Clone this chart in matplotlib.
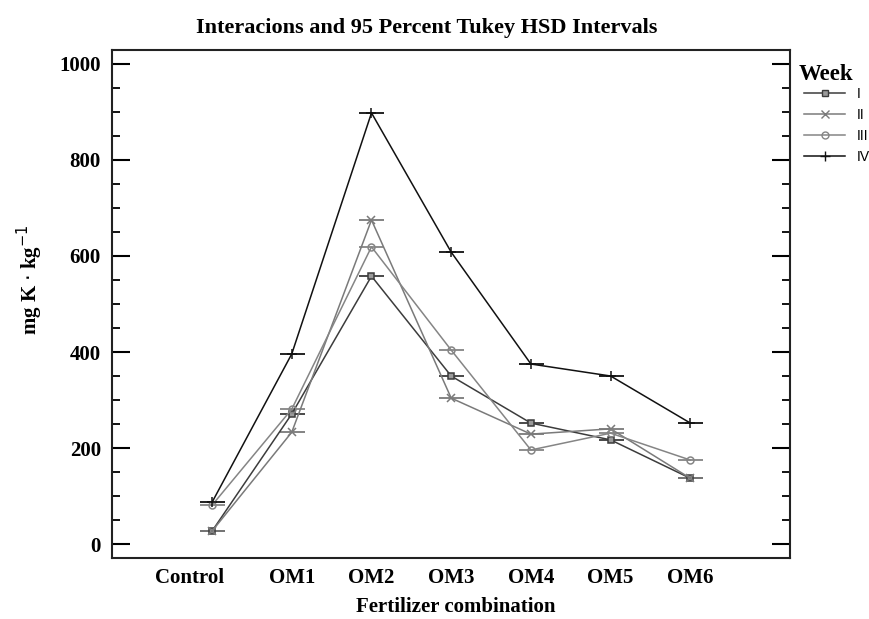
import matplotlib
matplotlib.use("Agg")
import matplotlib.pyplot as plt
from matplotlib.ticker import MultipleLocator
import matplotlib.transforms as mtransforms
from matplotlib.lines import Line2D

categories = ["Control", "OM1", "OM2", "OM3", "OM4", "OM5", "OM6"]
week_labels = ["I", "II", "III", "IV"]
week_I = [27, 271, 558, 350, 252, 217, 137]
week_II = [27, 233, 675, 304, 229, 240, 137]
week_III = [81, 281, 619, 404, 196, 231, 175]
week_IV = [87, 396, 898, 608, 375, 350, 252]
series = [week_I, week_II, week_III, week_IV]

colors = ["#3c3c3c", "#7a7a7a", "#858585", "#111111"]
markers = ["s", "x", "o", "+"]
mfaces = ["#9a9a9a", "#7a7a7a", "none", "#111111"]
msizes = [4.5, 6, 5, 7]

serif = ["Liberation Serif", "DejaVu Serif"]
sans = ["Liberation Sans", "DejaVu Sans"]

fig = plt.figure(figsize=(8.69, 6.19), dpi=100)
ax = fig.add_axes([112/869, 1-558/619, (790-112)/869, (558-50)/619])

x = list(range(len(categories)))
for vals, c, m, mf, ms, lab in zip(series, colors, markers, mfaces, msizes, week_labels):
    # interval caps
    ax.plot(x, vals, linestyle="none", marker="_", markersize=18, markeredgewidth=1.3,
            color=c, zorder=3)
    ax.plot(x, vals, color=c, linewidth=1.1, marker=m, markersize=ms,
            markerfacecolor=mf, markeredgecolor=c, markeredgewidth=1.1, zorder=4,
            label=lab)

ax.set_xlim(-1.255, 7.25)
ax.set_ylim(-29, 1029)
ax.set_xticks(x)
ax.set_xticklabels(categories, fontfamily=serif, fontweight="bold", fontsize=15)
ax.tick_params(axis="x", length=0, pad=7)
ax.yaxis.set_major_locator(MultipleLocator(200))
ax.yaxis.set_minor_locator(MultipleLocator(50))
ax.tick_params(axis="y", which="major", direction="in", length=13, width=1.5,
               left=True, right=True, pad=8)
ax.tick_params(axis="y", which="minor", direction="in", length=6, width=1.3,
               left=True, right=True)
for lbl in ax.get_yticklabels():
    lbl.set_fontfamily(serif)
    lbl.set_fontweight("bold")
    lbl.set_fontsize(15)
for s in ax.spines.values():
    s.set_linewidth(1.5)
    s.set_color("#222222")

# shift "Control" label left
lbl0 = ax.get_xticklabels()[0]
lbl0.set_transform(lbl0.get_transform() + mtransforms.ScaledTranslation(-22/100, 0, fig.dpi_scale_trans))

fig.text(427/869, 1-28/619, "Interacions and 95 Percent Tukey HSD Intervals",
         ha="center", va="center", fontfamily=serif, fontweight="bold", fontsize=16)
fig.text(456/869, 1-607/619, "Fertilizer combination", ha="center", va="center",
         fontfamily=serif, fontweight="bold", fontsize=15)
fig.text(30/869, 1-280/619, r"mg K $\cdot$ kg$^{-1}$", ha="center", va="center",
         rotation=90, fontfamily=serif, fontweight="bold", fontsize=15)

fig.text(799/869, 1-75/619, "Week", ha="left", va="center",
         fontfamily=serif, fontweight="bold", fontsize=16.5)
leg_handles = [Line2D([], [], color=c, linewidth=1.1, marker=m, markersize=ms,
                      markerfacecolor=mf, markeredgecolor=c)
               for c, m, mf, ms in zip(colors, markers, mfaces, msizes)]
leg = fig.legend(leg_handles, week_labels, loc="upper left",
                 bbox_to_anchor=(794/869, 1-77/619), frameon=False,
                 prop={"family": sans, "size": 10}, handlelength=3.0,
                 handletextpad=0.8, labelspacing=0.5, borderpad=0.2)

fig.savefig("out.png", dpi=100)
